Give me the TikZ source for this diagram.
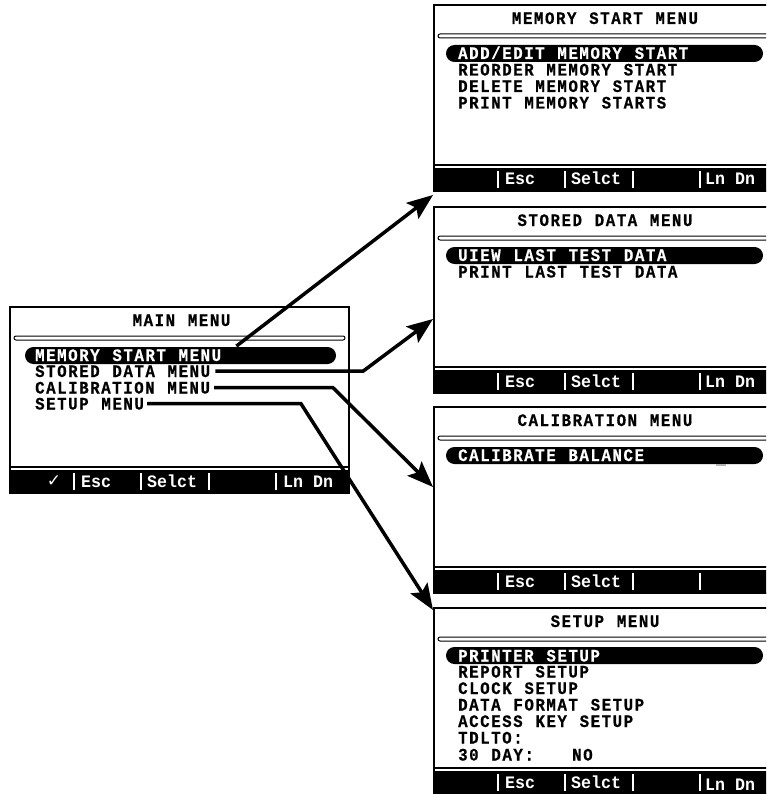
\documentclass[tikz,border=0pt]{standalone}
\usepackage{fontspec}
\newfontfamily\lcdfont{Liberation Mono}[FakeStretch=0.9, LetterSpace=8.9, WordSpace=1.16, FakeBold=0.6]
\newfontfamily\barfont{Liberation Mono}[FakeStretch=0.95]
\newfontfamily\symfont{DejaVu Sans}
\usetikzlibrary{arrows.meta}
\newcommand{\screen}[5]{%
  \draw[frame] (#2,#3) rectangle (#4,{#3+186});
  \node[ttl] (#1T) at ({(#2+#4)/2+2},{#3+19}) {#5};
  \draw[dblline] ({#2+4},{#3+29}) rectangle ({#4-4},{#3+33});
  \draw[line width=1.5pt] (#2,{#3+160}) -- (#4,{#3+160});
  \fill ({#2-1},{#3+163}) rectangle ({#4+1},{#3+187});
  \foreach \s in {64,131,199,266} \draw[sepline] ({#2+\s},{#3+166}) -- ({#2+\s},{#3+183});
  \node[barlbl] (#1E) at ({#2+71},{#3+180}) {Esc};
  \node[barlbl] (#1S) at ({#2+137},{#3+180}) {Selct};
}
\begin{document}
\begin{tikzpicture}[x=1pt,y=-1pt,
 frame/.style={line width=2pt},
 lcdsize/.style={font=\lcdfont\bfseries\fontsize{17.5}{17}\selectfont},
 ttl/.style={anchor=base, inner sep=0pt, lcdsize},
 itm/.style={anchor=base west, inner sep=0pt, lcdsize},
 barlbl/.style={anchor=base west, inner sep=0pt, text=white, font=\barfont\bfseries\fontsize{17.5}{17}\selectfont},
 sepline/.style={white, line width=1.8pt},
 dblline/.style={line width=1pt, rounded corners=2pt},
 pill/.style={fill=black, rounded corners=8.5pt},
 conn/.style={line width=3.5pt, line join=miter, -{Stealth[length=26pt,width=20pt,inset=5pt]}},
]
\useasboundingbox (0,0) rectangle (766,794);
\clip (0,0) rectangle (766,794);

% main menu
\screen{main}{10}{307}{349}{MAIN MENU}
\fill[pill] (25,347) rectangle (336,364);
\node[itm, text=white] (mMem) at (35,361) {MEMORY START MENU};
\node[itm] (mSto) at (35,377) {STORED DATA MENU};
\node[itm] (mCal) at (35,393.5) {CALIBRATION MENU};
\node[itm] (mSet) at (35,409.5) {SETUP MENU};
\node[text=white, inner sep=0pt, font=\symfont\fontsize{17}{17}\selectfont] (mChk) at (54,481) {✓};
\node[barlbl] (mainL) at (283,487) {Ln Dn};

% memory start menu
\screen{mem}{434}{5}{772}{MEMORY START MENU}
\fill[pill] (446,45) rectangle (763,62);
\node[itm, text=white] (mem1) at (458,59) {ADD/EDIT MEMORY START};
\node[itm] (mem2) at (458,75.5) {REORDER MEMORY START};
\node[itm] (mem3) at (458,92) {DELETE MEMORY START};
\node[itm] (mem4) at (458,108.5) {PRINT MEMORY STARTS};
\node[barlbl] (memL) at (705,185) {Ln Dn};

% stored data menu
\screen{sto}{434}{207}{772}{STORED DATA MENU}
\fill[pill] (446,247) rectangle (763,264);
\node[itm, text=white] (sto1) at (458,261) {UIEW LAST TEST DATA};
\node[itm] (sto2) at (458,277.5) {PRINT LAST TEST DATA};
\node[barlbl] (stoL) at (705,387) {Ln Dn};

% calibration menu
\screen{cal}{434}{407}{772}{CALIBRATION MENU}
\fill[pill] (446,447) rectangle (763,464);
\node[itm, text=white] (cal1) at (458,461) {CALIBRATE BALANCE};
\draw[gray!60, line width=1.5pt] (716,465) -- (726,465);

% setup menu
\screen{set}{434}{608}{772}{SETUP MENU}
\fill[pill] (446,647) rectangle (763,664);
\node[itm, text=white] (set1) at (458,661.5) {PRINTER SETUP};
\node[itm] (set2) at (458,677.5) {REPORT SETUP};
\node[itm] (set3) at (458,694) {CLOCK SETUP};
\node[itm] (set4) at (458,710.5) {DATA FORMAT SETUP};
\node[itm] (set5) at (458,727) {ACCESS KEY SETUP};
\node[itm] (set6) at (458,743.5) {TDLTO:};
\node[itm] (set7) at (458,760.5) {30 DAY:\ \ \ NO};
\node[barlbl] (setL) at (705,790) {Ln Dn};

% connector targets
\coordinate (memIn) at (433,195);
\coordinate (stoIn) at (433,319);
\coordinate (calIn) at (433,487);
\coordinate (setIn) at (433,610);
\coordinate (b2) at (363,0);
\coordinate (b3) at (333,0);
\coordinate (b4) at (301,0);

\draw[conn] ([xshift=15pt,yshift=3pt]mMem.north east) -- (memIn);
\draw[conn] ([xshift=5pt]mSto.east) -- (mSto.east -| b2) -- (stoIn);
\draw[conn] ([xshift=4pt]mCal.east) -- (mCal.east -| b3) -- (calIn);
\draw[conn] ([xshift=3pt]mSet.east) -- (mSet.east -| b4) -- (setIn);
\end{tikzpicture}
\end{document}
